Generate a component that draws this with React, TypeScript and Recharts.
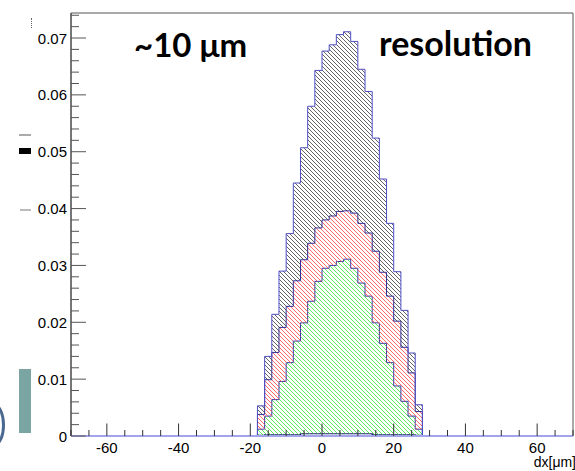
import React from 'react';
import { AreaChart, Area, XAxis, YAxis, ReferenceArea } from 'recharts';

// histogram bin edges (dx in µm), 2 µm bins
const binEdges = [-18, -16, -14, -12, -10, -8, -6, -4, -2, 0, 2, 4, 6, 8, 10, 12, 14, 16, 18, 20, 22, 24, 26, 28];

// stacked components (per-bin contributions, bottom to top)
const navyCounts = [0.0001, 0.0002, 0.0002, 0.0002, 0.0002, 0.0002, 0.0004, 0.0004, 0.0004, 0.0004, 0.0004, 0.0004, 0.0004, 0.0004, 0.0004, 0.0004, 0.0002, 0.0002, 0.0002, 0.0002, 0.0002, 0.0002, 0.0001];
const greenCounts = [0.0011, 0.0033, 0.0062, 0.0094, 0.0127, 0.0165, 0.0195, 0.0233, 0.0268, 0.0291, 0.0296, 0.0303, 0.0307, 0.0291, 0.0265, 0.0242, 0.0197, 0.0161, 0.0127, 0.0086, 0.0059, 0.0033, 0.0011];
const redCounts = [0.0026, 0.0064, 0.0083, 0.0095, 0.0099, 0.0106, 0.0111, 0.0102, 0.0094, 0.0085, 0.0087, 0.0088, 0.0085, 0.0097, 0.0105, 0.0111, 0.0126, 0.0125, 0.0117, 0.0114, 0.0095, 0.0076, 0.0031];
const blackCounts = [0.0015, 0.0041, 0.0067, 0.0099, 0.0128, 0.0172, 0.0197, 0.0241, 0.0277, 0.0297, 0.0301, 0.0311, 0.0315, 0.0302, 0.0271, 0.0249, 0.0199, 0.0164, 0.0128, 0.0087, 0.0065, 0.0035, 0.0012];

// axis ticks
const xTicks = [-70, -65, -60, -55, -50, -45, -40, -35, -30, -25, -20, -15, -10, -5, 0, 5, 10, 15, 20, 25, 30, 35, 40, 45, 50, 55, 60, 65, 70];
const xMajorTicks = [-60, -40, -20, 0, 20, 40, 60];
const yTicks = [0, 0.002, 0.004, 0.006, 0.008, 0.01, 0.012, 0.014, 0.016, 0.018, 0.02, 0.022, 0.024, 0.026, 0.028, 0.03, 0.032, 0.034, 0.036, 0.038, 0.04, 0.042, 0.044, 0.046, 0.048, 0.05, 0.052, 0.054, 0.056, 0.058, 0.06, 0.062, 0.064, 0.066, 0.068, 0.07, 0.072, 0.074];
const yMajorTicks = [0, 0.01, 0.02, 0.03, 0.04, 0.05, 0.06, 0.07];
const yMajorLabels = ['0', '0.01', '0.02', '0.03', '0.04', '0.05', '0.06', '0.07'];

const X_DOMAIN: [number, number] = [-70, 70];
const Y_DOMAIN: [number, number] = [0, 0.0744];

// build step-histogram rows
const nBins = greenCounts.length;
const rows: any[] = [];
rows.push({ x: binEdges[0], navy: 0, green: 0, red: 0, black: 0 });
binEdges.forEach((e, i) => {
  const k = Math.min(i, nBins - 1);
  rows.push({ x: e, navy: navyCounts[k], green: greenCounts[k], red: redCounts[k], black: blackCounts[k] });
});
rows.push({ x: binEdges[binEdges.length - 1], navy: 0, green: 0, red: 0, black: 0 });

const FONT = '"Liberation Sans", Arial, Helvetica, sans-serif';

const XTick = (props: any) => {
  const { x, y, payload } = props;
  const major = xMajorTicks.includes(payload.value);
  return (
    <g>
      <line x1={x} x2={x} y1={y} y2={y - (major ? 12.5 : 6)} stroke="#333" strokeWidth={1} />
      {major && (
        <text x={x} y={y + 17} textAnchor="middle" fontSize={15} fontFamily={FONT} fill="#000">
          {payload.value}
        </text>
      )}
    </g>
  );
};

const YTick = (props: any) => {
  const { x, y, payload } = props;
  const idx = yMajorTicks.indexOf(payload.value);
  const major = idx >= 0;
  return (
    <g>
      <line x1={x} x2={x + (major ? 15 : 8)} y1={y} y2={y} stroke="#555" strokeWidth={1} />
      {major && (
        <text x={x - 4} y={y + 5.5} textAnchor="end" fontSize={15} fontFamily={FONT} fill="#000">
          {yMajorLabels[idx]}
        </text>
      )}
    </g>
  );
};

const Hatch = ({ id, color, width }: { id: string; color: string; width: number }) => (
  <pattern id={id} patternUnits="userSpaceOnUse" width={4} height={4}>
    <path d="M-1,-1 L5,5 M3,-1 L5,1 M-1,3 L1,5" stroke={color} strokeWidth={width} fill="none" />
  </pattern>
);

const XTitle = (props: any) => {
  const vb = props.viewBox || {};
  return (
    <text x={vb.x + vb.width + 3} y={vb.y + 31} textAnchor="end" fontSize={14} fontFamily={FONT} fill="#000">
      dx[μm]
    </text>
  );
};

export default function App() {
  return (
    <div style={{ position: 'absolute', left: 0, top: 0, width: 575, height: 471, background: '#fff', overflow: 'hidden' }}>
      <AreaChart width={575} height={471} data={rows} margin={{ top: 13, right: 2, left: 0, bottom: 0 }}>
        <defs>
          <Hatch id="hatchBlack" color="#333333" width={0.75} />
          <Hatch id="hatchRed" color="#ff5a5a" width={0.9} />
          <Hatch id="hatchGreen" color="#4ae84a" width={0.9} />
        </defs>
        <XAxis
          dataKey="x"
          type="number"
          domain={X_DOMAIN}
          ticks={xTicks}
          allowDataOverflow
          height={35}
          tickSize={0}
          tickMargin={0}
          tickLine={false}
          tick={<XTick />}
          axisLine={{ stroke: '#a4a4ea', strokeWidth: 2 }}
          interval={0}
          label={<XTitle />}
        />
        <YAxis
          type="number"
          domain={Y_DOMAIN}
          ticks={yTicks}
          allowDataOverflow
          width={71}
          tickSize={0}
          tickMargin={0}
          tickLine={false}
          tick={<YTick />}
          axisLine={{ stroke: '#444', strokeWidth: 1 }}
          interval={0}
        />
        <ReferenceArea x1={-70} x2={70} y1={0} y2={0.0744} fill="none" stroke="#555" strokeWidth={1} ifOverflow="visible" />
        <Area type="stepAfter" dataKey="navy" stackId="s" stroke="#14146e" strokeWidth={1.2} fill="none" isAnimationActive={false} />
        <Area type="stepAfter" dataKey="green" stackId="s" stroke="#3a3aa8" strokeWidth={1} fill="url(#hatchGreen)" fillOpacity={1} isAnimationActive={false} />
        <Area type="stepAfter" dataKey="red" stackId="s" stroke="#3030a0" strokeWidth={1} fill="url(#hatchRed)" fillOpacity={1} isAnimationActive={false} />
        <Area type="stepAfter" dataKey="black" stackId="s" stroke="#5050c4" strokeWidth={1} fill="url(#hatchBlack)" fillOpacity={1} isAnimationActive={false} />
      </AreaChart>

      <div style={{ position: 'absolute', left: 134, top: 24, fontFamily: 'Lato, "Open Sans", sans-serif', fontWeight: 700, fontSize: 33, lineHeight: '40px', color: '#000', whiteSpace: 'nowrap' }}>
        ~10 μm
      </div>
      <div style={{ position: 'absolute', left: 379, top: 23, fontFamily: 'Lato, "Open Sans", sans-serif', fontWeight: 700, fontSize: 34, lineHeight: '40px', color: '#000', whiteSpace: 'nowrap' }}>
        resolution
      </div>

      {/* slide fragments at the left edge */}
      <div style={{ position: 'absolute', left: 31, top: 18, width: 0, height: 10, borderLeft: '1px dotted #666' }} />
      <div style={{ position: 'absolute', left: 19, top: 134, width: 12, height: 2, background: '#aaa' }} />
      <div style={{ position: 'absolute', left: 19, top: 148, width: 12, height: 6, background: '#000' }} />
      <div style={{ position: 'absolute', left: 20, top: 209, width: 11, height: 2, background: '#bbb' }} />
      <div style={{ position: 'absolute', left: 19, top: 369, width: 12, height: 64, background: '#7aa5a2' }} />
      <div style={{ position: 'absolute', left: -15, top: 404, width: 14, height: 36, border: '3px solid #4a6890', borderRadius: '50%' }} />
    </div>
  );
}
